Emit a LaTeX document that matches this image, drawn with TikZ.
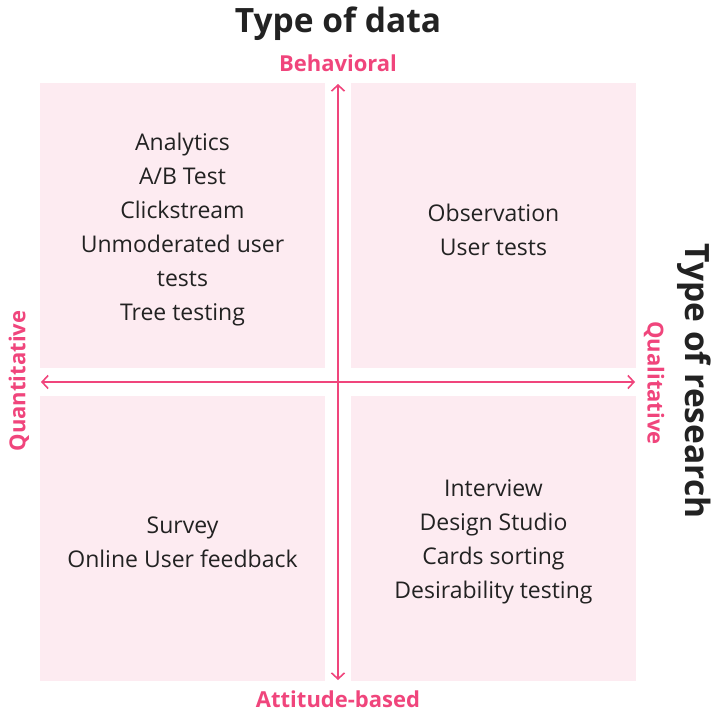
\documentclass[tikz,border=0pt]{standalone}
\usepackage{fontspec}
\setmainfont{Open Sans}
\usetikzlibrary{arrows.meta}
\definecolor{boxfill}{HTML}{FDEBF1}
\definecolor{accent}{HTML}{F0457C}
\definecolor{ink}{HTML}{222222}
\tikzset{
  quad/.style={fill=boxfill, draw=none},
  body/.style={text=ink, align=center, font=\fontsize{23}{34}\selectfont, inner sep=0pt},
  title/.style={text=ink, font=\fontsize{33.5}{36}\selectfont\bfseries, inner sep=0pt},
  axislabel/.style={text=accent, font=\fontsize{22}{26}\selectfont\bfseries, inner sep=0pt},
  axis/.style={draw=accent, line width=1.6pt, {Straight Barb[length=6pt,width=13pt]}-{Straight Barb[length=6pt,width=13pt]}}
}
\begin{document}
\begin{tikzpicture}[x=1pt,y=-1pt]
\useasboundingbox (0,0) rectangle (723,715);
\fill[quad] (40,83) rectangle (325,368);
\fill[quad] (351,83) rectangle (636,368);
\fill[quad] (40,396) rectangle (325,681);
\fill[quad] (351,396) rectangle (636,681);

\coordinate (top) at (338,84);
\coordinate (bottom) at (338,680);
\coordinate (left) at (41,382);
\coordinate (right) at (635,382);
\draw[axis] (top) -- (bottom);
\draw[axis] (left) -- (right);

\node[title] (tdata) at (338,24) {Type of data};
\node[title, rotate=-90] (tres) at (694,381) {Type of research};
\node[axislabel] (beh) at (338,63) {Behavioral};
\node[axislabel] (att) at (338,699) {Attitude-based};
\node[axislabel, rotate=90] (quant) at (19,381) {Quantitative};
\node[axislabel, rotate=-90] (qual) at (654,383) {Qualitative};

\node[body] (tl) at (182.5,229.5) {Analytics\\A/B Test\\Clickstream\\Unmoderated user\\tests\\Tree testing};
\node[body] (tr) at (493.5,229.5) {Observation\\User tests};
\node[body] (bl) at (182.5,542) {Survey\\Online User feedback};
\node[body] (br) at (493.5,542) {Interview\\Design Studio\\Cards sorting\\Desirability testing};
\end{tikzpicture}
\end{document}
